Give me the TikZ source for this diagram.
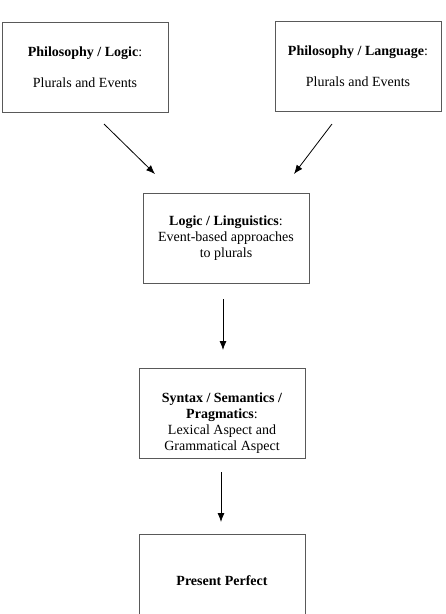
\documentclass[tikz,border=0pt]{standalone}
\usepackage{fontspec}
\setmainfont{Liberation Serif}
\usetikzlibrary{arrows.meta}
\begin{document}
\begin{tikzpicture}
        [
            x=1pt, y=-1pt,
            >={Latex[length=9pt,width=7pt]},
            field/.style = {draw=black!65, line width=0.8pt, minimum width=166pt, minimum height=90pt, inner sep=0pt, align=center, font=\fontsize{14pt}{16pt}\selectfont},
            words/.style = {align=center, inner sep=0pt, font=\fontsize{14pt}{16pt}\selectfont},
        ]
        \useasboundingbox (0,0) rectangle (446,614);
        \node [field] (philLogic) at (85,67) {\textbf{Philosophy / Logic}:\\[15pt]Plurals and Events};
        \node [field] (philLang) at (358,66) {\textbf{Philosophy / Language}:\\[15pt]Plurals and Events};
        \node [field] (logLing) at (226,238) {\textbf{Logic / Linguistics}:\\Event-based approaches\\to plurals};
        \node [field] (synSem) at (222,413.5) {};
        \node [words] (synSemText) at (222,423) {\textbf{Syntax / Semantics /}\\\textbf{Pragmatics}:\\Lexical Aspect and\\Grammatical Aspect};
        \node [field, minimum height=94pt] (perfect) at (222,581) {\textbf{Present Perfect}};
        \coordinate (a1s) at (104,124);
        \coordinate (a1e) at (155,174);
        \coordinate (a2s) at (332,124);
        \coordinate (a2e) at (294,174);
        \coordinate (a3s) at (223,299);
        \coordinate (a3e) at (223,350);
        \coordinate (a4s) at (221,472);
        \coordinate (a4e) at (221,522);
        \draw[->, line width=0.8pt] (a1s) -- (a1e);
        \draw[->, line width=0.8pt] (a2s) -- (a2e);
        \draw[->, line width=0.8pt] (a3s) -- (a3e);
        \draw[->, line width=0.8pt] (a4s) -- (a4e);
\end{tikzpicture}
\end{document}
